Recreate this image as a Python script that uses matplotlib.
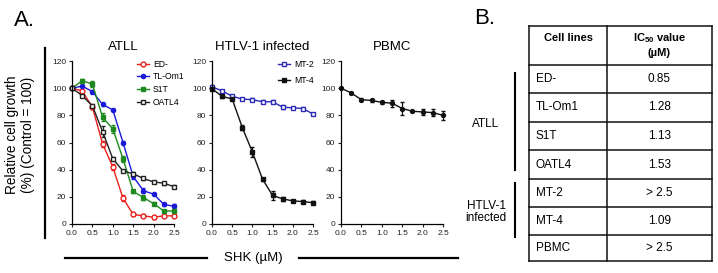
import numpy as np
import matplotlib.pyplot as plt
from matplotlib.lines import Line2D

plt.rcParams['font.family'] = ['Liberation Sans', 'DejaVu Sans']
plt.rcParams['mathtext.fontset'] = 'custom'
plt.rcParams['mathtext.rm'] = 'Liberation Sans'
plt.rcParams['mathtext.bf'] = 'Liberation Sans:bold'

# ------------------------------------------------------------
# Data
# ------------------------------------------------------------
dose = [0, 0.25, 0.5, 0.75, 1.0, 1.25, 1.5, 1.75, 2.0, 2.25, 2.5]

ed = [100, 98, 86, 59, 42, 19, 7, 6, 5, 6, 6]
ed_err = [0, 1, 1.5, 2, 2, 2, 1, 1, 1, 1, 1]
tlom1 = [100, 101.5, 97.5, 88, 84, 60, 35, 24.5, 22, 14.5, 13]
tlom1_err = [0, 1, 1, 1, 1, 1, 2, 2, 1, 1, 1.5]
s1t = [100, 105.5, 103, 78.5, 70, 48, 24, 19.5, 15, 9.6, 9.6]
s1t_err = [0, 1, 2, 3, 3, 2, 1, 2, 1, 1, 1]
oatl4 = [100, 94.5, 87, 68, 48, 39, 37, 33.5, 31, 30, 27.5]
oatl4_err = [0, 1, 1, 4, 1, 1, 1, 1, 1, 1, 1]

mt2 = [101, 98, 94, 92, 91.5, 90, 90, 86, 85.5, 85, 81]
mt2_err = [1, 1, 1, 1, 1, 1, 1, 1.5, 1, 1, 1]
mt4 = [99.5, 94, 92, 71, 53, 33, 21, 18.5, 17, 16.5, 15.7]
mt4_err = [1, 1, 1, 2, 4, 1, 3, 1.5, 1, 1, 1]

pbmc = [100, 96.5, 91.5, 91, 89.5, 89, 85, 83, 82.5, 82, 80]
pbmc_err = [0, 0.5, 1, 1, 1, 2.5, 4.5, 0.5, 2, 2.5, 3.5]

cell_lines = ['ED-', 'TL-Om1', 'S1T', 'OATL4', 'MT-2', 'MT-4', 'PBMC']
ic50 = ['0.85', '1.28', '1.13', '1.53', '> 2.5', '1.09', '> 2.5']

xticks = [0.0, 0.5, 1.0, 1.5, 2.0, 2.5]
yticks = [0, 20, 40, 60, 80, 100, 120]

# ------------------------------------------------------------
# Figure
# ------------------------------------------------------------
W, H = 718, 273
fig = plt.figure(figsize=(W / 100, H / 100), dpi=100)

# overlay axes in pixel units for the annotations and the table
ov = fig.add_axes([0, 0, 1, 1])
ov.set_xlim(0, W)
ov.set_ylim(H, 0)
ov.axis('off')


def panel(x0, x1, title):
    ax = fig.add_axes([x0 / W, 1 - 224 / H, (x1 - x0) / W, (224 - 61) / H])
    ax.set_xlim(0, 2.5)
    ax.set_ylim(0, 120)
    ax.set_xticks(xticks)
    ax.set_yticks(yticks)
    ax.xaxis.set_major_formatter(plt.FormatStrFormatter('%.1f'))
    for s in ['top', 'right']:
        ax.spines[s].set_visible(False)
    for s in ['left', 'bottom']:
        ax.spines[s].set_linewidth(0.9)
    ax.tick_params(labelsize=6, length=2.5, width=0.8, pad=1.5, colors='#222222')
    ax.set_title(title, fontsize=9.5, pad=8)
    return ax


def series(ax, y, err, color, marker, mfc, ms=3.5):
    ax.errorbar(dose, y, yerr=err, color=color, marker=marker, mfc=mfc,
                mec=color, ms=ms, lw=1.0, mew=1.0, capsize=1.5, elinewidth=0.9,
                capthick=0.9, clip_on=False)
    return Line2D([], [], color=color, marker=marker, mfc=mfc, mec=color,
                  ms=ms, lw=1.0, mew=1.0)


def legend(ax, handles, labels, x, spacing):
    ax.legend(handles, labels, loc='upper left', bbox_to_anchor=(x, 1.03),
              frameon=False, fontsize=6.2, handlelength=1.4, handletextpad=0.5,
              labelspacing=spacing, borderaxespad=0)


ax1 = panel(72, 174, 'ATLL')
h1 = [series(ax1, ed, ed_err, '#e8201c', 'o', 'white'),
      series(ax1, tlom1, tlom1_err, '#1a1ad8', 'o', '#1a1ad8', ms=3),
      series(ax1, s1t, s1t_err, '#1e8a1e', 's', '#1e8a1e', ms=3),
      series(ax1, oatl4, oatl4_err, '#222222', 's', 'white')]
legend(ax1, h1, ['ED-', 'TL-Om1', 'S1T', 'OATL4'], 0.6, 0.45)

ax2 = panel(212, 313, 'HTLV-1 infected')
h2 = [series(ax2, mt2, mt2_err, '#2b2bb8', 's', 'white'),
      series(ax2, mt4, mt4_err, '#111111', 's', '#111111', ms=3)]
legend(ax2, h2, ['MT-2', 'MT-4'], 0.62, 0.9)

ax3 = panel(341, 443, 'PBMC')
series(ax3, pbmc, pbmc_err, '#111111', 'o', '#111111', ms=2.8)

# ------------------------------------------------------------
# Panel A annotations
# ------------------------------------------------------------
ov.text(14, 20, 'A.', fontsize=16, ha='left', va='center')
ov.text(20, 135, 'Relative cell growth\n(%) (Control = 100)', rotation=90,
        ha='center', va='center', fontsize=9.8, linespacing=1.25)
ov.add_line(Line2D([45, 45], [48, 238], color='black', lw=1.6))
ov.add_line(Line2D([65, 207], [258, 258], color='black', lw=1.6))
ov.add_line(Line2D([299, 458], [258, 258], color='black', lw=1.6))
ov.text(253, 258, 'SHK (µM)', ha='center', va='center', fontsize=9.5)

# ------------------------------------------------------------
# Panel B: IC50 table
# ------------------------------------------------------------
ov.text(485, 18, 'B.', fontsize=16, ha='center', va='center')

tl, tm, tr = 529, 607, 712
rows_y = [26, 65, 93, 122, 150, 179, 207, 235, 261]
for yy in rows_y:
    ov.add_line(Line2D([tl, tr], [yy, yy], color='#111111', lw=1.1))
for xx in [tl, tm, tr]:
    ov.add_line(Line2D([xx, xx], [rows_y[0], rows_y[-1]], color='#111111', lw=1.1))

ov.text((tl + tm) / 2, 38, 'Cell lines', ha='center', va='center',
        fontsize=8, fontweight='bold')
ov.text((tm + tr) / 2, 38, r'IC$_{\mathbf{50}}$ value', ha='center', va='center',
        fontsize=8, fontweight='bold')
ov.text((tm + tr) / 2, 53, '(µM)', ha='center', va='center',
        fontsize=8, fontweight='bold')

for i, (name, val) in enumerate(zip(cell_lines, ic50)):
    yc = (rows_y[i + 1] + rows_y[i + 2]) / 2
    ov.text(tl + 7, yc, name, ha='left', va='center', fontsize=8.5)
    ov.text((tm + tr) / 2, yc, val, ha='center', va='center', fontsize=8.5)

ov.text(486, 124, 'ATLL', ha='center', va='center', fontsize=8.5)
ov.add_line(Line2D([515, 515], [73, 170], color='black', lw=1.5))
ov.text(486, 212, 'HTLV-1\ninfected', ha='center', va='center', fontsize=8.5,
        linespacing=1.1)
ov.add_line(Line2D([515, 515], [183, 237], color='black', lw=1.5))

fig.savefig('out.png', dpi=100)
